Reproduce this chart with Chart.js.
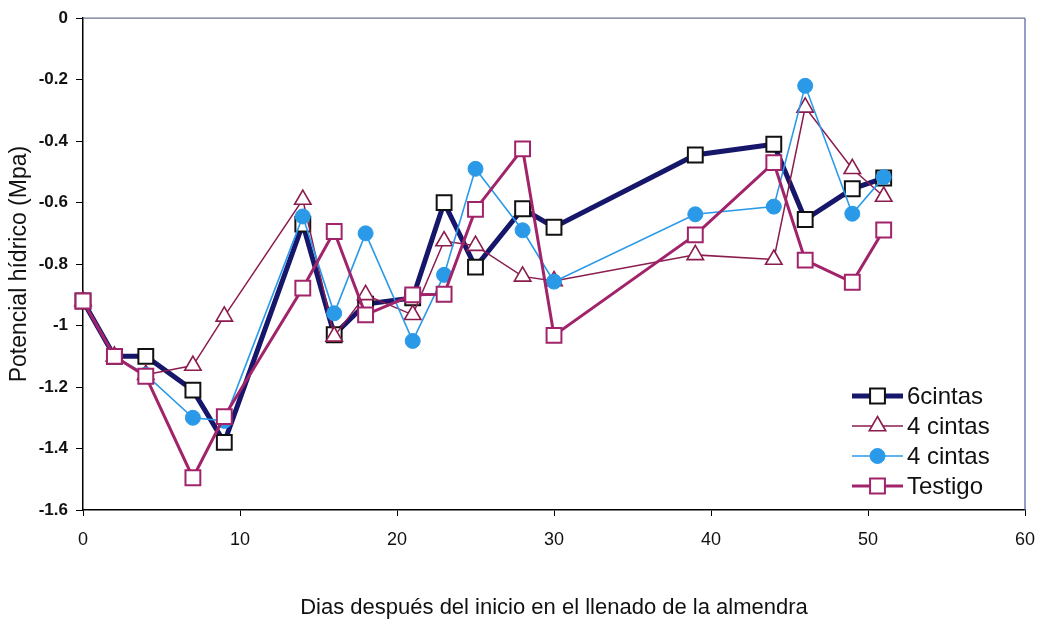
<!DOCTYPE html>
<html>
<head>
<meta charset="utf-8">
<script src="https://cdn.jsdelivr.net/npm/chart.js@4.4.1/dist/chart.umd.min.js"></script>
<style>
    html, body { margin: 0; padding: 0; background: #fff; }
    #wrap { width: 1044px; height: 627px; position: relative; }
</style>
</head>
<body>
<div id="wrap"><canvas id="grafico"></canvas></div>
<script>
// dias desde el inicio del llenado
const dias = [0, 2, 4, 7, 9, 14, 16, 18, 21, 23, 25, 28, 30, 39, 44, 46, 49, 51];

// potencial hidrico (MPa) por tratamiento
const seisCintas = [-0.92, -1.10, -1.10, -1.21, -1.38, -0.67, -1.03, -0.93, -0.91, -0.60, -0.81, -0.62, -0.68, -0.445, -0.41, -0.655, -0.555, -0.52];
const cuatroTriang = [-0.92, -1.10, -1.16, -1.13, -0.97, -0.59, -1.035, -0.90, -0.965, -0.725, -0.74, -0.84, -0.855, -0.77, -0.785, -0.29, -0.49, -0.58];
const cuatroCirc = [-0.92, -1.10, -1.16, -1.30, -1.31, -0.645, -0.96, -0.70, -1.05, -0.835, -0.49, -0.69, -0.857, -0.638, -0.613, -0.22, -0.636, -0.517];
const testigo = [-0.92, -1.10, -1.165, -1.495, -1.296, -0.878, -0.694, -0.965, -0.90, -0.898, -0.622, -0.425, -1.032, -0.705, -0.47, -0.787, -0.859, -0.689];

const nombres = ['6cintas', '4 cintas', '4 cintas', 'Testigo'];
const yTicks = [0, -0.2, -0.4, -0.6, -0.8, -1, -1.2, -1.4, -1.6];
const xTicks = [0, 10, 20, 30, 40, 50, 60];

const toXY = (vals) => dias.map((d, i) => ({ x: d, y: vals[i] }));

// marco superior y derecho del area de trazado
const marco = {
    id: 'marco',
    beforeDatasetsDraw(chart) {
        const { ctx, chartArea: a } = chart;
        ctx.save();
        ctx.lineWidth = 1.2;
        ctx.strokeStyle = '#6b7390';
        ctx.beginPath();
        ctx.moveTo(a.left, a.top);
        ctx.lineTo(a.right, a.top);
        ctx.stroke();
        ctx.strokeStyle = '#4a5ca8';
        ctx.beginPath();
        ctx.moveTo(a.right, a.top);
        ctx.lineTo(a.right, a.bottom);
        ctx.stroke();
        ctx.restore();
    }
};

// leyenda dentro del area, abajo a la derecha
const leyenda = {
    id: 'leyenda',
    afterDraw(chart) {
        const { ctx, chartArea: a } = chart;
        const x0 = a.right - 173, x1 = a.right - 122;
        const xm = (x0 + x1) / 2;
        let y = a.bottom - 114;
        ctx.save();
        chart.data.datasets.forEach((ds, i) => {
            ctx.strokeStyle = ds.borderColor;
            ctx.lineWidth = ds.borderWidth;
            ctx.beginPath();
            ctx.moveTo(x0, y);
            ctx.lineTo(x1, y);
            ctx.stroke();
            ctx.fillStyle = ds.pointBackgroundColor;
            ctx.strokeStyle = ds.pointBorderColor;
            ctx.lineWidth = ds.pointBorderWidth;
            Chart.helpers.drawPoint(ctx, {
                pointStyle: ds.pointStyle,
                radius: ds.pointRadius,
                rotation: 0,
                borderWidth: ds.pointBorderWidth
            }, xm, y);
            ctx.fillStyle = '#111';
            ctx.font = '24px "Liberation Sans", Arial, sans-serif';
            ctx.textBaseline = 'middle';
            ctx.textAlign = 'left';
            ctx.fillText(nombres[i], x1 + 4, y + 1);
            y += 30;
        });
        ctx.restore();
    }
};

const ctx = document.getElementById('grafico').getContext('2d');

new Chart(ctx, {
    type: 'line',
    data: {
        datasets: [
            {
                label: nombres[0],
                data: toXY(seisCintas),
                borderColor: '#16166a',
                borderWidth: 5,
                pointStyle: 'rect',
                pointRadius: 10.5,
                pointBackgroundColor: '#fff',
                pointBorderColor: '#111',
                pointBorderWidth: 2,
                clip: false,
                order: 4
            },
            {
                label: nombres[1],
                data: toXY(cuatroTriang),
                borderColor: '#8a1c4e',
                borderWidth: 1.5,
                pointStyle: 'triangle',
                pointRadius: 9.5,
                pointBackgroundColor: '#fff',
                pointBorderColor: '#8a1c4e',
                pointBorderWidth: 1.6,
                clip: false,
                order: 3
            },
            {
                label: nombres[2],
                data: toXY(cuatroCirc),
                borderColor: '#2a9ae8',
                borderWidth: 1.6,
                pointStyle: 'circle',
                pointRadius: 7.5,
                pointBackgroundColor: '#2a9ae8',
                pointBorderColor: '#2a9ae8',
                pointBorderWidth: 1,
                clip: false,
                order: 2
            },
            {
                label: nombres[3],
                data: toXY(testigo),
                borderColor: '#a1246a',
                borderWidth: 3,
                pointStyle: 'rect',
                pointRadius: 10.5,
                pointBackgroundColor: '#fff',
                pointBorderColor: '#a1246a',
                pointBorderWidth: 2,
                clip: false,
                order: 1
            }
        ]
    },
    options: {
        responsive: true,
        maintainAspectRatio: false,
        animation: false,
        layout: { autoPadding: false, padding: { left: 4, top: 17, right: 19, bottom: 4 } },
        plugins: {
            legend: { display: false },
            tooltip: { enabled: false }
        },
        elements: { line: { tension: 0 } },
        scales: {
            x: {
                type: 'linear',
                min: 0,
                max: 60,
                afterBuildTicks: (s) => { s.ticks = xTicks.map(v => ({ value: v })); },
                afterFit: (s) => {
                    s.height = 113;
                    s.paddingLeft = 0;
                    s.paddingRight = 0;
                },
                grid: { drawOnChartArea: false, drawTicks: true, tickLength: 6, color: '#000' },
                border: { display: true, color: '#000', width: 1.5 },
                ticks: {
                    padding: 13,
                    color: '#111',
                    font: { family: '"Liberation Sans", Arial, sans-serif', size: 18 },
                    maxRotation: 0
                },
                title: {
                    display: true,
                    text: 'Dias después del inicio en el llenado de la almendra',
                    color: '#111',
                    font: { family: '"Liberation Sans", Arial, sans-serif', size: 22 },
                    padding: { top: 0, bottom: 2 }
                }
            },
            y: {
                min: -1.6,
                max: 0,
                afterBuildTicks: (s) => { s.ticks = yTicks.map(v => ({ value: v })); },
                afterFit: (s) => { s.width = 79; },
                grid: { drawOnChartArea: false, drawTicks: true, tickLength: 7, color: '#000' },
                border: { display: true, color: '#000', width: 1.5 },
                ticks: {
                    padding: 8,
                    color: '#111',
                    font: { family: '"Liberation Sans", Arial, sans-serif', size: 17, weight: 'bold' },
                    callback: (v) => String(Number(v.toFixed(1)))
                },
                title: {
                    display: true,
                    text: 'Potencial hídrico (Mpa)',
                    color: '#111',
                    font: { family: '"Liberation Sans", Arial, sans-serif', size: 23 },
                    padding: { top: 2, bottom: 0 }
                }
            }
        }
    },
    plugins: [marco, leyenda]
});
</script>
</body>
</html>
